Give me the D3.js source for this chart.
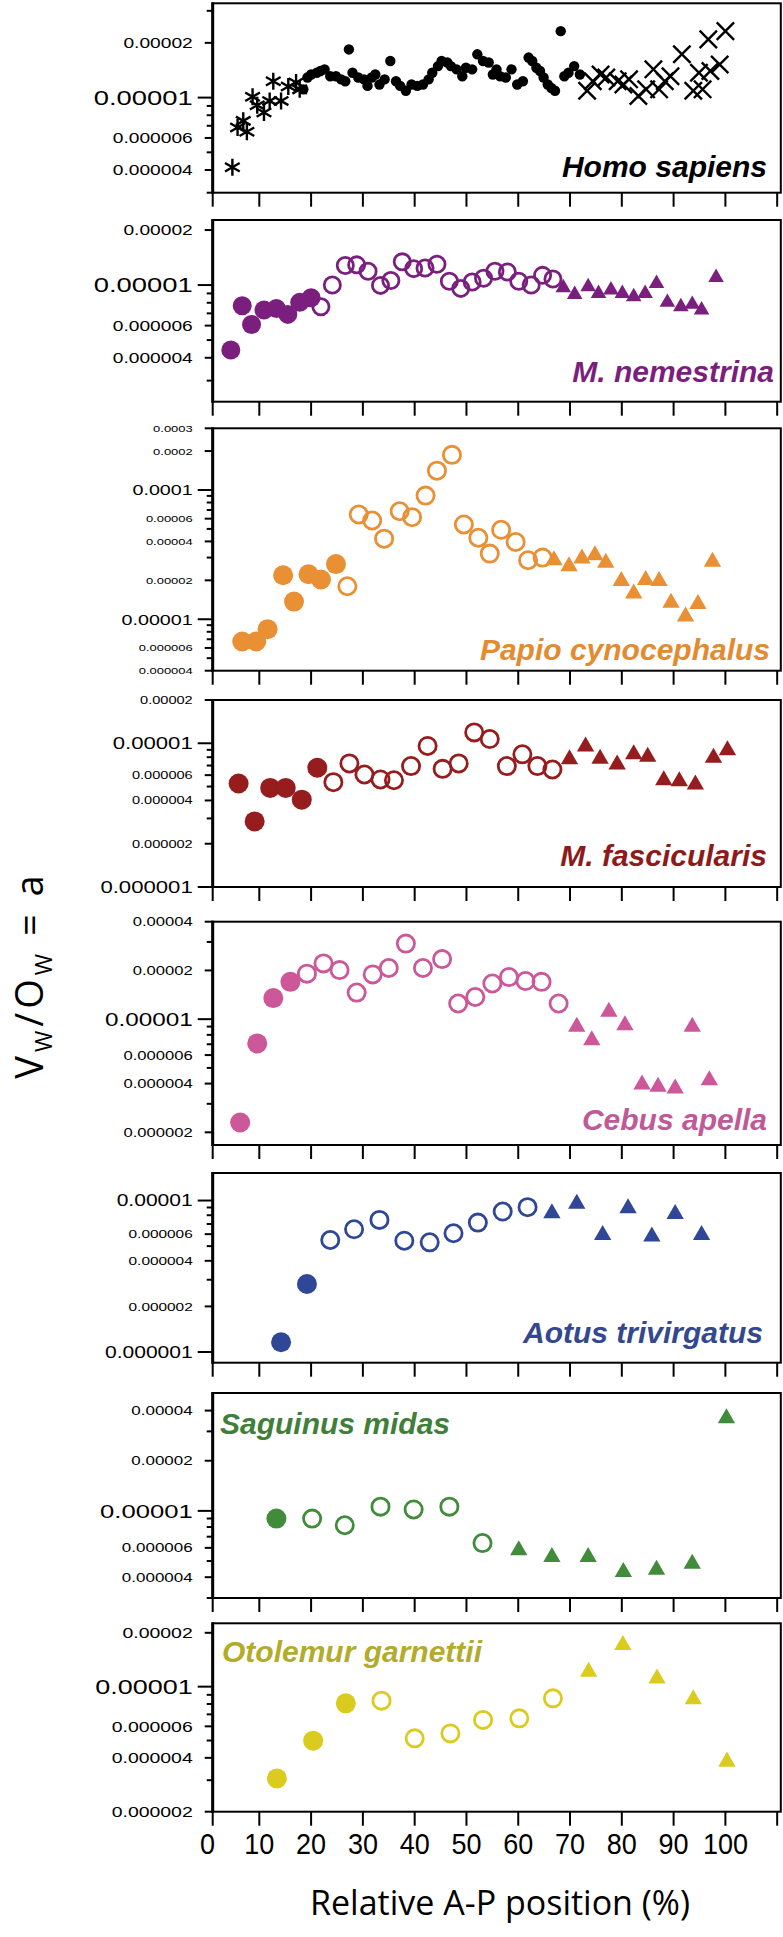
<!DOCTYPE html>
<html><head><meta charset="utf-8">
<script src="https://cdn.jsdelivr.net/npm/d3@7"></script>
<style>body{margin:0;background:#fff}svg{display:block}</style>
</head><body>
<svg id="chart" width="783" height="1937"></svg>
<script>
// ---------------- DATA (x = relative A-P position %, y in units of 1e-5) ----------------
const xTicks = [0,10,20,30,40,50,60,70,80,90,100,110];
const xTickLabels = ["0","10","20","30","40","50","60","70","80","90","100"];
const speciesNames = ["Homo sapiens","M. nemestrina","Papio cynocephalus","M. fascicularis","Cebus apella","Aotus trivirgatus","Saguinus midas","Otolemur garnettii"];

const homoAsterisk = [[4.8,0.414],[5.8,0.685],[6.9,0.745],[7.6,0.649],[8.7,1.01],[9.6,0.908],[10.9,0.828],[12.0,0.959],[12.7,1.23],[14.2,0.959],[15.6,1.15],[17.1,1.21],[17.8,1.11]];
const homoDot = [[18.5,1.11],[19.3,1.29],[20.0,1.34],[21.1,1.37],[21.8,1.40],[22.6,1.43],[23.7,1.31],[24.8,1.31],[25.8,1.26],[26.6,1.23],[27.3,1.84],[28.0,1.37],[29.1,1.29],[30.2,1.26],[30.9,1.16],[31.7,1.29],[32.4,1.34],[33.2,1.18],[34.2,1.26],[35.3,1.59],[36.4,1.23],[37.2,1.16],[38.3,1.09],[39.4,1.18],[40.5,1.16],[41.6,1.18],[42.7,1.26],[43.4,1.37],[44.5,1.49],[45.2,1.59],[46.3,1.56],[47.0,1.49],[48.1,1.43],[49.2,1.31],[49.9,1.46],[51.1,1.43],[52.1,1.73],[53.2,1.59],[54.3,1.56],[55.1,1.34],[55.8,1.43],[56.5,1.31],[57.6,1.29],[58.7,1.43],[59.8,1.18],[60.9,1.23],[62.0,1.66],[62.7,1.59],[63.5,1.46],[64.2,1.40],[64.9,1.29],[65.7,1.18],[66.4,1.13],[67.1,1.09],[68.2,2.32],[68.9,1.31],[69.7,1.37],[70.8,1.49],[71.9,1.34]];
const homoCross = [[73.3,1.09],[74.4,1.23],[75.9,1.34],[77.0,1.29],[79.2,1.23],[80.3,1.18],[81.4,1.26],[83.2,1.02],[84.7,1.11],[86.1,1.43],[87.2,1.11],[88.3,1.23],[89.4,1.31],[91.6,1.73],[93.8,1.09],[94.9,1.37],[95.6,1.11],[96.7,2.09],[97.1,1.40],[98.9,1.52],[100.0,2.32]];

const nemFilled = [[4.5,0.441],[6.7,0.770],[8.5,0.609],[10.9,0.730],[13.3,0.745],[15.5,0.691],[17.8,0.804],[20.0,0.853]];
const nemOpen = [[21.9,0.761],[24.1,1.0],[26.6,1.28],[28.8,1.29],[31.0,1.19],[33.4,0.996],[35.4,1.06],[37.6,1.34],[39.8,1.23],[42.0,1.24],[44.3,1.30],[46.7,1.05],[48.9,0.959],[51.1,1.04],[53.3,1.09],[55.5,1.19],[57.9,1.18],[60.1,1.05],[62.5,1.0],[64.7,1.13],[66.7,1.08]];
const nemTri = [[68.7,0.967],[70.9,0.889],[73.5,0.979],[75.5,0.900],[77.9,0.939],[80.1,0.900],[82.3,0.863],[84.5,0.900],[86.7,1.02],[88.8,0.804],[91.4,0.761],[93.6,0.784],[95.4,0.730],[98.2,1.10]];

const papFilled = [[6.7,0.673],[9.4,0.673],[11.6,0.838],[14.6,2.19],[16.7,1.37],[19.5,2.23],[21.9,2.03],[24.8,2.67]];
const papOpen = [[27.0,1.80],[29.2,6.46],[31.8,5.81],[34.1,4.20],[37.1,6.85],[39.5,6.16],[42.1,9.05],[44.3,14.1],[47.2,18.7],[49.5,5.41],[52.3,4.27],[54.5,3.22],[56.7,4.92],[59.5,3.96],[61.9,2.86],[64.7,3.00]];
const papTri = [[66.9,2.86],[69.8,2.57],[72.3,2.95],[74.8,3.13],[76.9,2.73],[79.9,1.98],[82.3,1.58],[84.6,2.01],[87.2,1.98],[89.5,1.34],[92.3,1.05],[94.7,1.31],[97.5,2.78]];

const fasFilled = [[6.0,0.525],[9.1,0.286],[12.1,0.489],[15.1,0.489],[18.2,0.405],[21.2,0.675]];
const fasOpen = [[24.3,0.536],[27.4,0.724],[30.3,0.606],[33.4,0.560],[36.0,0.553],[39.3,0.694],[42.5,0.958],[45.4,0.664],[48.5,0.724],[51.5,1.19],[54.5,1.07],[57.8,0.694],[60.8,0.838],[63.7,0.694],[66.6,0.657]];
const fasTri = [[69.9,0.773],[73.0,0.948],[75.8,0.781],[79.1,0.713],[82.3,0.838],[85.0,0.806],[88.1,0.553],[91.1,0.545],[94.2,0.516],[97.7,0.794],[100.4,0.893]];

const cebFilled = [[6.3,0.230],[9.6,0.708],[12.7,1.35],[16.0,1.70]];
const cebOpen = [[19.2,1.91],[22.4,2.21],[25.5,2.01],[28.8,1.46],[31.9,1.89],[35.0,2.07],[38.3,2.93],[41.6,2.07],[45.3,2.35],[48.4,1.25],[51.7,1.37],[55.0,1.66],[58.2,1.82],[61.4,1.72],[64.5,1.70],[67.8,1.25]];
const cebTri = [[71.3,0.897],[74.2,0.742],[77.5,1.11],[80.6,0.918],[83.9,0.395],[87.0,0.382],[90.3,0.373],[93.6,0.897],[96.9,0.420]];

const aotFilled = [[14.2,0.116],[19.2,0.281]];
const aotOpen = [[23.7,0.549],[28.3,0.646],[33.2,0.745],[38.0,0.543],[42.9,0.530],[47.5,0.608],[52.2,0.715],[57.0,0.846],[61.8,0.904]];
const aotTri = [[66.5,0.824],[71.3,0.951],[76.3,0.593],[81.2,0.889],[85.8,0.578],[90.3,0.816],[95.4,0.593]];

const sagFilled = [[13.3,0.899]];
const sagOpen = [[20.2,0.899],[26.5,0.820],[33.4,1.06],[39.8,1.02],[46.7,1.06],[53.1,0.641]];
const sagTri = [[60.1,0.580],[66.5,0.528],[73.5,0.528],[80.3,0.429],[86.7,0.443],[93.6,0.482],[100.2,3.60]];

const otoFilled = [[13.4,0.307],[20.4,0.499],[26.7,0.807]];
const otoOpen = [[33.6,0.835],[40.0,0.514],[46.9,0.548],[53.2,0.652],[60.2,0.665],[66.7,0.860]];
const otoTri = [[73.6,1.21],[80.2,1.71],[86.8,1.11],[93.8,0.850],[100.3,0.381]];

// y-axis ticks per panel (units of 1e-5)
const yDomains = [[0.3,3.3],[0.23,2.27],[0.4,30],[0.1,2],[0.167,4],[0.085,1.52],[0.3,5.1],[0.2,2.26]];
const yTicksAll = [
  [0.3,0.4,0.5,0.6,0.7,0.8,0.9,1,2,3],
  [0.3,0.4,0.5,0.6,0.7,0.8,0.9,1,2],
  [0.4,0.5,0.6,0.7,0.8,0.9,1,2,3,4,5,6,7,8,9,10,20,30],
  [0.1,0.2,0.3,0.4,0.5,0.6,0.7,0.8,0.9,1,2],
  [0.2,0.3,0.4,0.5,0.6,0.7,0.8,0.9,1,2,3,4],
  [0.1,0.2,0.3,0.4,0.5,0.6,0.7,0.8,0.9,1],
  [0.3,0.4,0.5,0.6,0.7,0.8,0.9,1,2,3,4],
  [0.2,0.3,0.4,0.5,0.6,0.7,0.8,0.9,1,2]
];
const yTicksLabeled = [[2,0.6,0.4],[2,0.6,0.4],[30,20,6,4,2,0.6,0.4],[2,0.6,0.4,0.2],[4,2,0.6,0.4,0.2],[0.6,0.4,0.2],[4,2,0.6,0.4],[2,0.6,0.4,0.2]];
const yTicksMajor = [[1],[1],[10,1],[1,0.1],[1],[1,0.1],[1],[1]];

// ---------------- STYLE / LAYOUT ----------------
const colors = ["#000000","#7b1f7f","#e98f34","#961c1e","#cc5799","#2f4796","#408c3b","#dccb1f"];
const textColors = ["#000000","#7b1f7f","#e38b31","#8d1b1b","#bf5a98","#33488f","#3f7f39","#b3ab2b"];
const panelTop = [3.3,220,428.3,700,921.7,1173,1393,1623.3];
const panelBottom = [192.7,401.7,670.7,887,1145,1362.7,1598,1811.7];
const fsMinor = [14.2,14.2,9.6,10.8,12.3,11.4,12.6,14.4];
const fsMajor = [20.3,20.3,14.6,16.4,18,15.6,19,20];
const nameLayout = [
  {anchor:"end",x:767,y:177},{anchor:"end",x:774,y:382},{anchor:"end",x:770,y:660},{anchor:"end",x:767,y:866},
  {anchor:"end",x:767,y:1130},{anchor:"end",x:763,y:1343},{anchor:"start",x:220,y:1434},{anchor:"start",x:222,y:1662}
];
const markerR = [5.2,9.5,10,10,10,10,10,10];
const triSize = [0,105,130,130,130,130,130,130];

const seriesByPanel = [
  [{k:"asterisk",d:homoAsterisk},{k:"dot",d:homoDot},{k:"cross",d:homoCross}],
  [{k:"filled",d:nemFilled},{k:"open",d:nemOpen},{k:"tri",d:nemTri}],
  [{k:"filled",d:papFilled},{k:"open",d:papOpen},{k:"tri",d:papTri}],
  [{k:"filled",d:fasFilled},{k:"open",d:fasOpen},{k:"tri",d:fasTri}],
  [{k:"filled",d:cebFilled},{k:"open",d:cebOpen},{k:"tri",d:cebTri}],
  [{k:"filled",d:aotFilled},{k:"open",d:aotOpen},{k:"tri",d:aotTri}],
  [{k:"filled",d:sagFilled},{k:"open",d:sagOpen},{k:"tri",d:sagTri}],
  [{k:"filled",d:otoFilled},{k:"open",d:otoOpen},{k:"tri",d:otoTri}]
];

const frameL = 212.7, frameR = 780.8;
const x = d3.scaleLinear().domain([1,110.7]).range([frameL, frameR]);
const xc = v => Math.min(frameR, Math.max(frameL, x(v)));

const asteriskType = {draw(ctx,size){const r=Math.sqrt(size)*0.6,t=r/2,u=t*Math.sqrt(3);
  ctx.moveTo(0,r);ctx.lineTo(0,-r);ctx.moveTo(-u,-t);ctx.lineTo(u,t);ctx.moveTo(-u,t);ctx.lineTo(u,-t);}};
const timesType = {draw(ctx,size){const r=Math.sqrt(size)*0.5;
  ctx.moveTo(-r,-r);ctx.lineTo(r,r);ctx.moveTo(-r,r);ctx.lineTo(r,-r);}};

const fmt = v => { const real = v*1e-5; const n = Math.ceil(-Math.log10(real) - 1e-6); return real.toFixed(n); };
const FONT = "'Liberation Sans', Arial, Helvetica, sans-serif";
const TITLEFONT = "'Open Sans', 'Noto Sans', sans-serif";
const svg = d3.select("#chart");

speciesNames.forEach((name, i) => {
  const top = panelTop[i], bottom = panelBottom[i];
  const y = d3.scaleLog().domain(yDomains[i]).range([bottom, top]);
  const g = svg.append("g");
  const col = colors[i];

  g.selectAll("line.xt").data(xTicks).join("line")
    .attr("x1", d => xc(d)).attr("x2", d => xc(d))
    .attr("y1", bottom).attr("y2", bottom + 14)
    .attr("stroke", "#000").attr("stroke-width", 2);

  const labeled = new Set(yTicksLabeled[i]), major = new Set(yTicksMajor[i]);
  g.selectAll("line.yt").data(yTicksAll[i]).join("line")
    .attr("x1", d => frameL - (major.has(d) ? 15 : labeled.has(d) ? 8 : 6)).attr("x2", frameL)
    .attr("y1", d => y(d)).attr("y2", d => y(d))
    .attr("stroke", "#000").attr("stroke-width", 2);

  const labs = yTicksAll[i].filter(d => labeled.has(d) || major.has(d));
  g.selectAll("text.yl").data(labs).join("text")
    .attr("transform", d => `translate(${frameL - 20},${y(d)}) scale(1.35,1)`)
    .attr("text-anchor", "end").attr("dy", "0.36em")
    .attr("font-family", FONT)
    .attr("font-size", d => major.has(d) ? fsMajor[i] : fsMinor[i])
    .attr("fill", "#000")
    .text(d => fmt(d));

  const mg = g.append("g");
  seriesByPanel[i].forEach(s => {
    const sel = mg.selectAll(null).data(s.d);
    const r = markerR[i];
    if (s.k === "dot" || s.k === "filled") {
      sel.join("circle").attr("cx", d => x(d[0])).attr("cy", d => y(d[1])).attr("r", r).attr("fill", col);
    } else if (s.k === "open") {
      sel.join("circle").attr("cx", d => x(d[0])).attr("cy", d => y(d[1])).attr("r", r - 1.4)
        .attr("fill", "none").attr("stroke", col).attr("stroke-width", 2.8);
    } else if (s.k === "tri") {
      sel.join("path").attr("transform", d => `translate(${x(d[0])},${y(d[1])})`)
        .attr("d", d3.symbol().type(d3.symbolTriangle).size(triSize[i])()).attr("fill", col);
    } else if (s.k === "asterisk") {
      sel.join("path").attr("transform", d => `translate(${x(d[0])},${y(d[1])})`)
        .attr("d", d3.symbol().type(asteriskType).size(200)()).attr("fill", "none")
        .attr("stroke", col).attr("stroke-width", 2.4);
    } else if (s.k === "cross") {
      sel.join("path").attr("transform", d => `translate(${x(d[0])},${y(d[1])})`)
        .attr("d", d3.symbol().type(timesType).size(300)()).attr("fill", "none")
        .attr("stroke", col).attr("stroke-width", 2.4);
    }
  });

  g.append("rect").attr("x", frameL).attr("y", top).attr("width", frameR - frameL).attr("height", bottom - top)
    .attr("fill", "none").attr("stroke", "#000").attr("stroke-width", 2);
  g.append("line").attr("x1", frameL).attr("x2", frameL).attr("y1", top - 1).attr("y2", bottom + 1)
    .attr("stroke", "#000").attr("stroke-width", 3);

  const nl = nameLayout[i];
  g.append("text").attr("x", nl.x).attr("y", nl.y).attr("text-anchor", nl.anchor)
    .attr("font-family", FONT).attr("font-weight", "bold").attr("font-style", "italic")
    .attr("font-size", 30).attr("fill", textColors[i]).text(name);
});

// x tick labels
svg.append("g").selectAll("text").data(xTickLabels).join("text")
  .attr("transform", d => `translate(${x(+d)},1854) scale(0.9,1)`)
  .attr("text-anchor", "middle").attr("font-family", FONT).attr("font-size", 30).attr("fill", "#000")
  .text(d => d);

// x title
svg.append("text").attr("x", 500).attr("y", 1915).attr("text-anchor", "middle")
  .attr("font-family", TITLEFONT).attr("font-size", 34).attr("fill", "#000")
  .text("Relative A-P position (%)");

// y title
const yt = svg.append("text").attr("transform", "translate(43,975) rotate(-90)")
  .attr("text-anchor", "middle").attr("font-family", TITLEFONT)
  .attr("font-size", 38).attr("letter-spacing", 4).attr("fill", "#000");
yt.append("tspan").text("V");
yt.append("tspan").attr("font-size", 23).attr("dy", 9).text("W");
yt.append("tspan").attr("dy", -9).text("/O");
yt.append("tspan").attr("font-size", 23).attr("dy", 9).text("W");
yt.append("tspan").attr("dy", -9).text(" = a");
</script>
</body></html>
